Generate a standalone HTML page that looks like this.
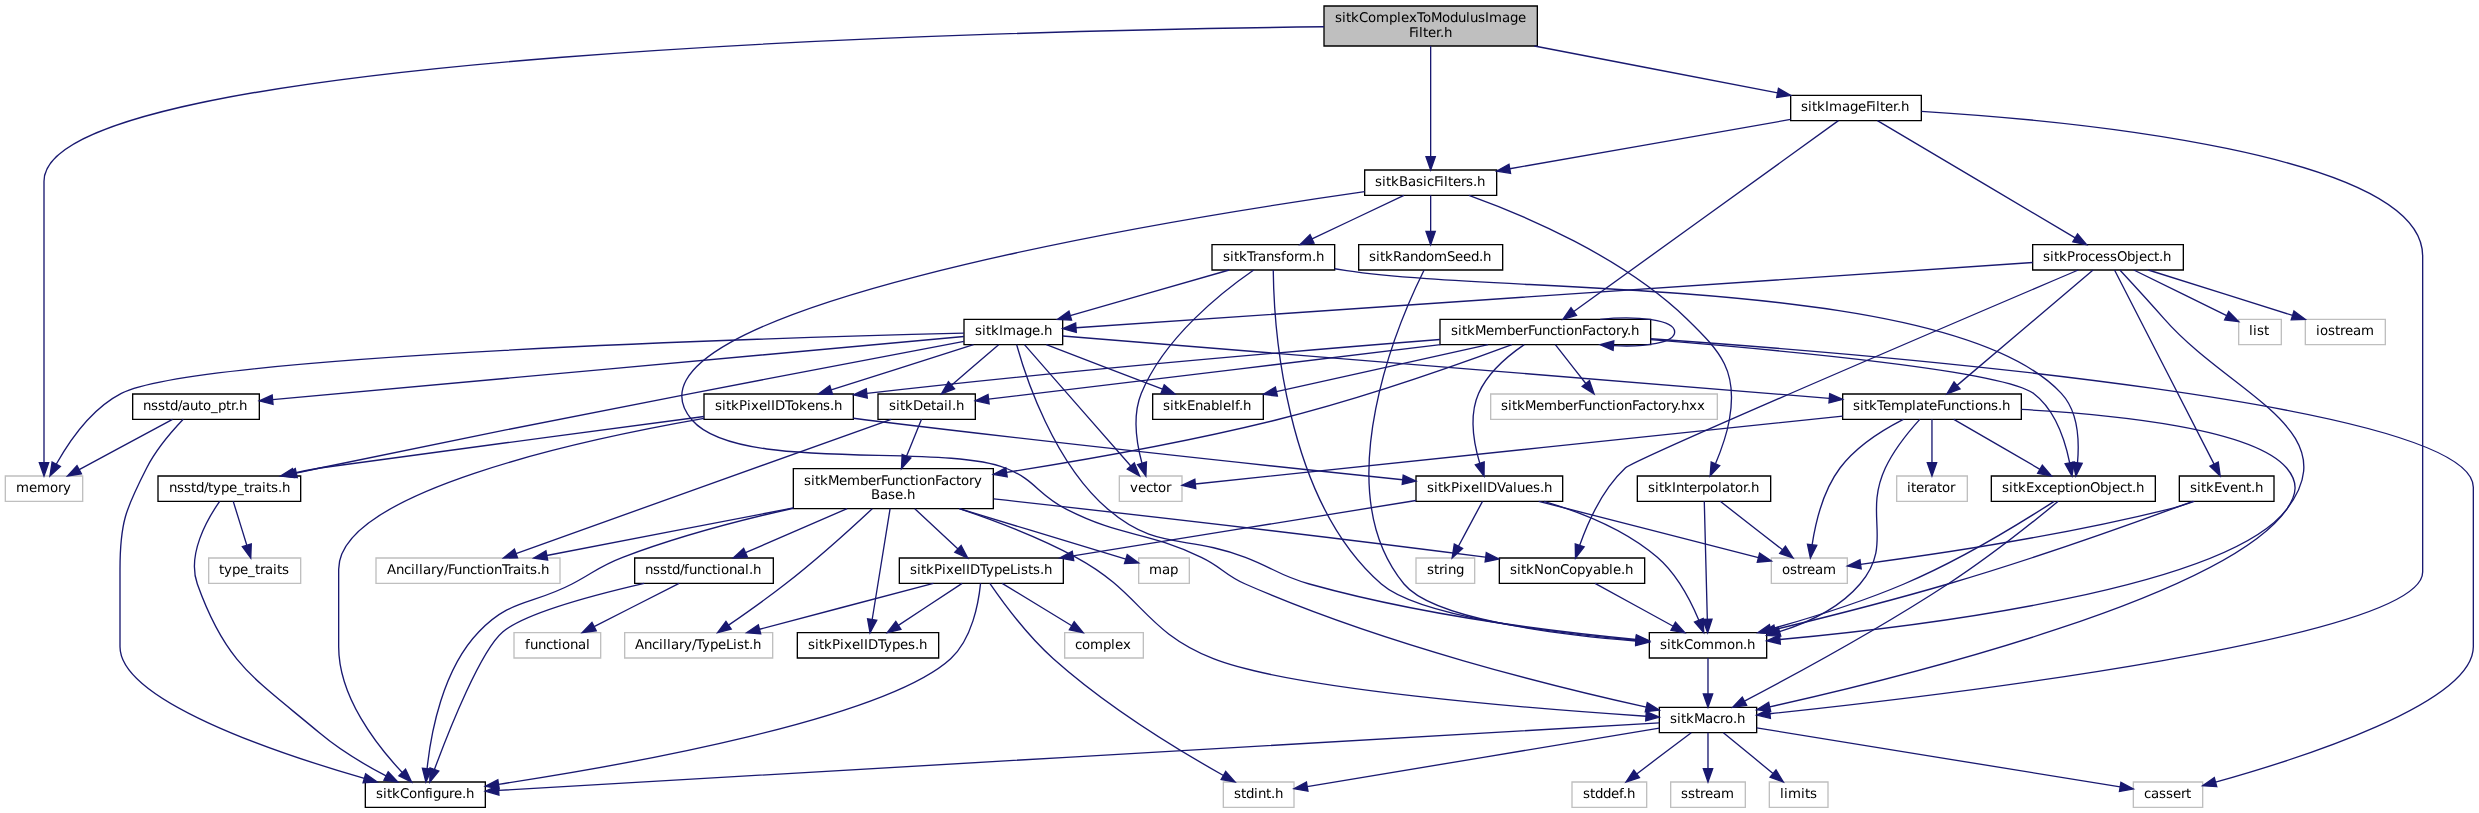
<!DOCTYPE html>
<html lang="en">
<head>
<meta charset="utf-8">
<title>sitkComplexToModulusImageFilter.h include dependency graph</title>
<style>
html,body{margin:0;padding:0;background:#fff;}
body{width:2479px;height:813px;overflow:hidden;}
svg{display:block;will-change:transform;}
text{font-family:"DejaVu Sans","Liberation Sans",sans-serif;font-size:13.3333px;fill:#000;text-rendering:geometricPrecision;}
.n polygon{fill:#fff;stroke:#000;stroke-width:1.3333;}
.n.x polygon{stroke:#bfbfbf;}
.n.r polygon{fill:#bfbfbf;}
.e path{fill:none;stroke:#191970;stroke-width:1.3333;}
.e polygon{fill:#191970;stroke:#191970;stroke-width:1.3333;}
</style>
</head>
<body>
<svg width="2479" height="813" viewBox="0 0 2479 813">
<rect x="0" y="0" width="2479" height="813" fill="#fff"/>
<g class="n r"><polygon points="1324,46 1324,6 1537.33,6 1537.33,46"/>
<text x="1335 1342 1346 1351 1359 1368 1376 1389 1397 1401 1409 1417 1423 1431 1442 1450 1458 1466 1470 1478 1485 1489 1502 1510 1518" y="22">sitkComplexToModulusImage</text>
<text x="1409 1415 1419 1423 1428 1436 1440 1444" y="37">Filter.h</text>
</g>
<g class="n x"><polygon points="5.33,501.33 5.33,476 82.67,476 82.67,501.33"/>
<text x="16 29 37 50 58 63" y="492">memory</text>
</g>
<g class="e"><path d="M1323.98,26.79C999.13,30.58 44,52.68 44,181.33 44,181.33 44,181.33 44,333.33 44,378.51 44,431.71 44,462.66"/><polygon points="48.67,462.66 44,476 39.33,462.66"/></g>
<g class="n"><polygon points="1364.67,195.33 1364.67,170 1496.67,170 1496.67,195.33"/>
<text x="1375 1382 1386 1391 1399 1408 1416 1423 1427 1434 1440 1444 1448 1453 1461 1466 1473 1477" y="186">sitkBasicFilters.h</text>
</g>
<g class="e"><path d="M1430.65,46C1430.65,74.17 1430.65,125.56 1430.65,156.66"/><polygon points="1435.31,156.66 1430.65,170 1425.98,156.66"/></g>
<g class="n"><polygon points="1790.67,120.67 1790.67,95.33 1921.33,95.33 1921.33,120.67"/>
<text x="1801 1808 1812 1817 1825 1829 1842 1850 1858 1866 1872 1876 1880 1885 1893 1897 1901" y="111">sitkImageFilter.h</text>
</g>
<g class="e"><path d="M1534.4,46C1609.41,60.46 1709.18,79.69 1777.6,92.88"/><polygon points="1778.48,88.3 1790.69,95.4 1776.71,97.46"/></g>
<g class="n"><polygon points="1659.33,732.67 1659.33,707.33 1756.67,707.33 1756.67,732.67"/>
<text x="1670 1677 1681 1686 1694 1705 1713 1720 1725 1733 1737" y="723">sitkMacro.h</text>
</g>
<g class="e"><path d="M1364.65,191.66C1166.98,219.96 599.02,311.69 692,420 737.88,473.45 939.72,442.36 1005.33,468 1035.95,479.96 1037.32,494.52 1066.67,509.33 1123.39,537.97 1143.95,530.07 1201.33,557.33 1221.99,567.15 1224.4,574.8 1245.33,584 1383.17,644.58 1555.88,687.2 1646.3,707.17"/><polygon points="1647.29,702.61 1659.32,710.02 1645.3,711.73"/></g>
<g class="n"><polygon points="1637.33,501.33 1637.33,476 1770.67,476 1770.67,501.33"/>
<text x="1648 1655 1659 1664 1672 1676 1684 1689 1697 1702 1710 1718 1722 1730 1735 1743 1747 1751" y="492">sitkInterpolator.h</text>
</g>
<g class="e"><path d="M1468.94,195.33C1522.96,214.76 1622.12,256.33 1686.67,318.67 1721.81,352.61 1738.08,371.92 1729.33,420 1726.65,434.83 1720.86,450.92 1715.5,463.79"/><polygon points="1719.77,465.67 1710.13,476 1711.22,461.91"/></g>
<g class="n"><polygon points="1358.67,270 1358.67,244.67 1502.67,244.67 1502.67,270"/>
<text x="1369 1376 1380 1385 1393 1402 1410 1418 1426 1434 1447 1455 1463 1471 1479 1483" y="261">sitkRandomSeed.h</text>
</g>
<g class="e"><path d="M1430.65,195.33C1430.65,205.17 1430.65,219.14 1430.65,231.33"/><polygon points="1435.31,231.33 1430.65,244.67 1425.98,231.33"/></g>
<g class="n"><polygon points="1212,270 1212,244.67 1334.67,244.67 1334.67,270"/>
<text x="1223 1230 1234 1239 1247 1253 1258 1266 1274 1281 1286 1294 1299 1312 1316" y="261">sitkTransform.h</text>
</g>
<g class="e"><path d="M1403.95,195.33C1378.73,207.3 1340.61,225.39 1312.04,238.95"/><polygon points="1314.04,243.17 1299.99,244.67 1310.04,234.73"/></g>
<g class="n x"><polygon points="1223.33,807.33 1223.33,782 1294,782 1294,807.33"/>
<text x="1234 1241 1246 1254 1258 1266 1271 1275" y="798">stdint.h</text>
</g>
<g class="e"><path d="M1659.32,728.09C1572.87,742.45 1393.52,772.26 1307.2,786.61"/><polygon points="1307.96,791.21 1294.04,788.79 1306.43,782"/></g>
<g class="n x"><polygon points="1572,807.33 1572,782 1646.67,782 1646.67,807.33"/>
<text x="1583 1590 1595 1603 1611 1619 1623 1627" y="798">stddef.h</text>
</g>
<g class="e"><path d="M1691.25,732.67C1676.32,743.96 1654.18,760.71 1636.68,773.95"/><polygon points="1639.49,777.68 1626.04,782 1633.86,770.23"/></g>
<g class="n x"><polygon points="2133.33,807.33 2133.33,782 2202.67,782 2202.67,807.33"/>
<text x="2144 2151 2159 2166 2173 2181 2186" y="798">cassert</text>
</g>
<g class="e"><path d="M1756.66,727.9C1845.33,742.29 2032.15,772.61 2120.19,786.9"/><polygon points="2120.94,782.3 2133.35,789.04 2119.45,791.51"/></g>
<g class="n x"><polygon points="1670.67,807.33 1670.67,782 1745.33,782 1745.33,807.33"/>
<text x="1681 1688 1695 1700 1705 1713 1721" y="798">sstream</text>
</g>
<g class="e"><path d="M1707.99,732.67C1707.99,742.5 1707.99,756.47 1707.99,768.67"/><polygon points="1712.66,768.67 1707.99,782 1703.32,768.67"/></g>
<g class="n x"><polygon points="1769.33,807.33 1769.33,782 1828,782 1828,807.33"/>
<text x="1780 1784 1788 1801 1805 1810" y="798">limits</text>
</g>
<g class="e"><path d="M1723.38,732.67C1736.96,743.84 1757.02,760.35 1773.02,773.53"/><polygon points="1775.99,769.92 1783.32,782 1770.06,777.13"/></g>
<g class="n"><polygon points="365.33,807.33 365.33,782 485.33,782 485.33,807.33"/>
<text x="376 383 387 392 400 409 417 425 429 433 441 449 454 462 466" y="798">sitkConfigure.h</text>
</g>
<g class="e"><path d="M1659.32,722.83C1463.65,734.22 733.56,776.72 498.64,790.4"/><polygon points="498.92,795.06 485.33,791.17 498.37,785.74"/></g>
<g class="n"><polygon points="1649.33,658 1649.33,632.67 1766.67,632.67 1766.67,658"/>
<text x="1660 1667 1671 1676 1684 1693 1701 1714 1727 1735 1743 1747" y="649">sitkCommon.h</text>
</g>
<g class="e"><path d="M1704.28,501.33C1704.94,526.93 1706.44,585.29 1707.32,619.34"/><polygon points="1711.99,619.22 1707.66,632.67 1702.66,619.46"/></g>
<g class="n x"><polygon points="1771.33,583.33 1771.33,558 1847.33,558 1847.33,583.33"/>
<text x="1782 1790 1797 1802 1807 1815 1823" y="574">ostream</text>
</g>
<g class="e"><path d="M1720.24,501.33C1736.85,514.25 1762.9,534.52 1782.56,549.81"/><polygon points="1785.43,546.13 1793.08,558 1779.69,553.5"/></g>
<g class="e"><path d="M1707.99,658C1707.99,667.84 1707.99,681.81 1707.99,694"/><polygon points="1712.66,694 1707.99,707.33 1703.32,694"/></g>
<g class="e"><path d="M1424.11,270C1400.54,317.64 1325.3,488.24 1404,584 1432.8,619.04 1555.59,634.53 1636.03,641.03"/><polygon points="1636.39,636.37 1649.32,642.05 1635.67,645.68"/></g>
<g class="e"><path d="M1273.25,270C1273.79,319.07 1282.7,498.19 1381.33,584 1418.51,616.34 1551.64,632.84 1636.04,640.23"/><polygon points="1636.43,635.58 1649.32,641.36 1635.64,644.88"/></g>
<g class="n"><polygon points="1991.33,501.33 1991.33,476 2155.33,476 2155.33,501.33"/>
<text x="2002 2009 2013 2018 2026 2034 2042 2049 2057 2065 2070 2074 2082 2090 2100 2108 2112 2120 2127 2132 2136" y="492">sitkExceptionObject.h</text>
</g>
<g class="e"><path d="M1334.64,268.75C1338.71,269.42 1342.74,270.07 1346.67,270.67 1505.96,294.95 1951.44,275.49 2061.33,393.33 2078.24,411.47 2079.4,441.3 2077.51,462.77"/><polygon points="2082.14,463.34 2075.87,476 2072.88,462.19"/></g>
<g class="n"><polygon points="964,344.67 964,319.33 1062.67,319.33 1062.67,344.67"/>
<text x="975 982 986 991 999 1003 1016 1024 1032 1040 1044" y="335">sitkImage.h</text>
</g>
<g class="e"><path d="M1229.2,270C1185.4,282.58 1118.06,301.92 1070.25,315.65"/><polygon points="1071.54,320.14 1057.43,319.34 1068.96,311.17"/></g>
<g class="n x"><polygon points="1119.33,501.33 1119.33,476 1182,476 1182,501.33"/>
<text x="1130 1138 1146 1153 1158 1166" y="492">vector</text>
</g>
<g class="e"><path d="M1253.73,270C1222.91,291.25 1164.22,337.3 1141.33,393.33 1132.27,415.51 1136.59,443.38 1141.97,463.25"/><polygon points="1146.44,461.88 1145.87,476 1137.51,464.61"/></g>
<g class="e"><path d="M2058.21,501.33C2035.11,520.38 1989.37,557.04 1948,584 1878.25,629.45 1792.26,676.03 1744.45,701.15"/><polygon points="1746.61,705.29 1732.63,707.33 1742.28,697.02"/></g>
<g class="e"><path d="M2054.18,501.33C2023.46,521.17 1960.92,559.8 1904,584 1860.65,602.42 1809.72,618.19 1770.65,629.13"/><polygon points="1771.89,633.63 1757.8,632.67 1769.41,624.63"/></g>
<g class="e"><path d="M964,333.13C787.85,337.45 196.4,354.74 121.33,393.33 91.6,408.62 69.09,441.41 56.22,464.24"/><polygon points="60.34,466.43 49.94,476 52.11,462.04"/></g>
<g class="e"><path d="M1016.63,344.67C1025.66,376.96 1053.84,463.08 1108,509.33 1157.17,551.32 1184.95,534.23 1245.33,557.33 1274.11,568.35 1279.65,575.72 1309.33,584 1421.13,615.19 1555.35,631.71 1636.05,639.48"/><polygon points="1636.48,634.83 1649.32,640.72 1635.61,644.12"/></g>
<g class="n"><polygon points="1842.67,419.33 1842.67,394 2021.33,394 2021.33,419.33"/>
<text x="1853 1860 1864 1869 1877 1883 1891 1904 1912 1916 1924 1929 1937 1943 1951 1959 1966 1971 1975 1983 1991 1998 2002" y="410">sitkTemplateFunctions.h</text>
</g>
<g class="e"><path d="M1062.67,336.01C1207.26,347.76 1632.2,382.3 1829.34,398.32"/><polygon points="1829.71,393.67 1842.62,399.4 1828.96,402.97"/></g>
<g class="e"><path d="M1024.44,344.67C1047.63,371.12 1101.49,432.53 1130.81,465.97"/><polygon points="1134.32,462.9 1139.6,476 1127.3,469.05"/></g>
<g class="n"><polygon points="878,419.33 878,394 975.33,394 975.33,419.33"/>
<text x="889 896 900 905 913 923 931 936 944 948 952 956" y="410">sitkDetail.h</text>
</g>
<g class="e"><path d="M998.63,344.67C985.73,355.78 966.72,372.16 951.47,385.29"/><polygon points="954.52,388.83 941.37,393.99 948.43,381.76"/></g>
<g class="n"><polygon points="704,419.33 704,394 853.33,394 853.33,419.33"/>
<text x="715 722 726 731 739 747 751 759 767 771 775 785 791 799 807 815 823 830 834" y="410">sitkPixelIDTokens.h</text>
</g>
<g class="e"><path d="M973.52,344.67C934.33,357.14 874.27,376.25 831.19,389.95"/><polygon points="832.6,394.4 818.48,393.99 829.77,385.51"/></g>
<g class="n"><polygon points="158,501.33 158,476 300.67,476 300.67,501.33"/>
<text x="169 177 184 191 196 204 208 213 221 229 237 244 249 254 262 266 271 278 282" y="492">nsstd/type_traits.h</text>
</g>
<g class="e"><path d="M964,341.33C900.89,353.29 788.23,374.69 692,393.33 526.44,425.4 485.13,433.83 320,468 312.32,469.59 304.28,471.32 296.29,473.09"/><polygon points="297.31,477.64 283.28,476 295.27,468.53"/></g>
<g class="n"><polygon points="1152.67,419.33 1152.67,394 1263.33,394 1263.33,419.33"/>
<text x="1163 1170 1174 1179 1187 1195 1203 1211 1219 1223 1231 1235 1239 1243" y="410">sitkEnableIf.h</text>
</g>
<g class="e"><path d="M1046.36,344.67C1078.3,356.92 1126.95,375.57 1162.54,389.22"/><polygon points="1164.21,384.86 1174.99,393.99 1160.87,393.58"/></g>
<g class="n"><polygon points="132.67,419.33 132.67,394 259.33,394 259.33,419.33"/>
<text x="143 151 158 165 170 178 182 190 198 203 211 218 226 231 235 239" y="410">nsstd/auto_ptr.h</text>
</g>
<g class="e"><path d="M964,336.51C826.53,349.07 438.39,384.52 272.61,399.66"/><polygon points="273.03,404.31 259.33,400.88 272.18,395.02"/></g>
<g class="e"><path d="M2021.29,409.45C2115.02,414.47 2253.33,428.55 2286.67,468 2298.52,482.03 2297.21,494.29 2286.67,509.33 2225.23,596.89 1905.9,676.35 1769.67,706.83"/><polygon points="1770.68,711.38 1756.66,709.71 1768.66,702.27"/></g>
<g class="e"><path d="M1919.78,419.33C1909.1,431.12 1893.96,449.6 1885.33,468 1862.95,515.79 1894.2,543.81 1860,584 1839.61,607.96 1808.35,622.68 1779.47,631.66"/><polygon points="1780.76,636.14 1766.65,635.33 1778.19,627.17"/></g>
<g class="e"><path d="M1903.37,419.33C1882.95,429.73 1856.3,446.27 1840,468 1823.2,490.39 1815.55,522.46 1812.11,544.78"/><polygon points="1816.73,545.38 1810.38,558 1807.48,544.18"/></g>
<g class="e"><path d="M1953.8,419.33C1976.82,432.68 2013.36,453.86 2039.99,469.31"/><polygon points="2042.33,465.27 2051.52,476 2037.65,473.35"/></g>
<g class="e"><path d="M1842.62,416.04C1675.28,433.6 1320.21,470.87 1195.3,483.98"/><polygon points="1195.79,488.62 1182.04,485.38 1194.82,479.34"/></g>
<g class="n x"><polygon points="1896.67,501.33 1896.67,476 1967.33,476 1967.33,501.33"/>
<text x="1907 1911 1916 1924 1929 1937 1942 1950" y="492">iterator</text>
</g>
<g class="e"><path d="M1931.96,419.33C1931.96,430.85 1931.96,448.2 1931.96,462.66"/><polygon points="1936.62,462.66 1931.96,476 1927.29,462.66"/></g>
<g class="n"><polygon points="793.33,508.67 793.33,468.67 993.33,468.67 993.33,508.67"/>
<text x="804 811 815 820 828 839 847 860 868 876 881 887 895 903 910 915 919 927 935 941 949 956 961 969 974" y="485">sitkMemberFunctionFactory</text>
<text x="871 880 888 895 903 907" y="499">Base.h</text>
</g>
<g class="e"><path d="M921.52,419.33C917.5,429.2 911.75,443.36 906.48,456.31"/><polygon points="910.81,458.07 901.46,468.66 902.16,454.56"/></g>
<g class="n x"><polygon points="376,583.33 376,558 560,558 560,583.33"/>
<text x="387 396 404 411 415 419 423 431 436 444 448 454 462 470 477 482 486 494 502 508 513 521 525 530 537 541" y="574">Ancillary/FunctionTraits.h</text>
</g>
<g class="e"><path d="M891.24,419.33C809.67,448.5 608.51,520.43 515.98,553.51"/><polygon points="517.55,557.91 503.42,558 514.4,549.12"/></g>
<g class="e"><path d="M959.29,508.66C994.91,520.64 1039.02,537.4 1076,557.33 1142.77,593.33 1142.84,630.65 1213.33,658.67 1290.7,689.41 1531.35,708.59 1646.02,716.22"/><polygon points="1646.32,711.56 1659.32,717.09 1645.71,720.88"/></g>
<g class="e"><path d="M793.33,508.23C741.49,519.82 677.68,536.36 622.67,557.33 598.89,566.4 594.57,572.25 572,584 530.61,605.53 510.97,598.36 478.67,632 442.42,669.74 430.8,733.25 427.08,768.72"/><polygon points="431.73,769.12 425.92,782 422.43,768.31"/></g>
<g class="n"><polygon points="634.67,583.33 634.67,558 773.33,558 773.33,583.33"/>
<text x="645 653 660 667 672 680 684 689 697 705 712 717 721 729 737 745 749 753" y="574">nsstd/functional.h</text>
</g>
<g class="e"><path d="M847.16,508.66C816.1,522.12 775.51,539.7 745.48,552.7"/><polygon points="747.34,556.98 733.25,558 743.63,548.42"/></g>
<g class="n"><polygon points="797.33,658 797.33,632.67 938.67,632.67 938.67,658"/>
<text x="808 815 819 824 832 840 844 852 860 864 868 878 884 892 900 908 915 919" y="649">sitkPixelIDTypes.h</text>
</g>
<g class="e"><path d="M890.1,508.66C885.54,536.89 877.2,588.42 872.18,619.51"/><polygon points="876.78,620.25 870.05,632.67 867.57,618.76"/></g>
<g class="n"><polygon points="899.33,583.33 899.33,558 1063.33,558 1063.33,583.33"/>
<text x="910 917 921 926 934 942 946 954 962 966 970 980 986 994 1002 1010 1017 1021 1028 1033 1040 1044" y="574">sitkPixelIDTypeLists.h</text>
</g>
<g class="e"><path d="M914.8,508.66C927.88,520.85 944.6,536.42 958.01,548.91"/><polygon points="961.19,545.5 967.77,558 954.83,552.33"/></g>
<g class="n x"><polygon points="624.67,658 624.67,632.67 772.67,632.67 772.67,658"/>
<text x="635 644 652 659 663 667 671 679 684 692 696 702 710 718 726 733 737 744 749 753" y="649">Ancillary/TypeList.h</text>
</g>
<g class="e"><path d="M872.26,508.66C850.91,528.59 816.66,559.64 785.33,584 767.01,598.25 745.56,613.44 728.58,625.14"/><polygon points="731.22,628.99 717.58,632.67 725.95,621.29"/></g>
<g class="n"><polygon points="1499.33,583.33 1499.33,558 1644.67,558 1644.67,583.33"/>
<text x="1510 1517 1521 1526 1534 1544 1552 1560 1569 1577 1585 1593 1601 1609 1613 1621 1625" y="574">sitkNonCopyable.h</text>
</g>
<g class="e"><path d="M993.69,498.96C1108.87,511.64 1303.83,533.69 1485.33,557.2"/><polygon points="1486.29,552.63 1498.93,558.93 1485.12,561.88"/></g>
<g class="e"><path d="M793.33,507.94C718.07,522.45 616.33,542.07 546.79,555.48"/><polygon points="547.67,560.06 533.7,558 545.91,550.89"/></g>
<g class="n x"><polygon points="1138.67,583.33 1138.67,558 1189.33,558 1189.33,583.33"/>
<text x="1149 1162 1170" y="574">map</text>
</g>
<g class="e"><path d="M959.34,508.66C1011.58,524.49 1082.7,546.05 1125.86,559.12"/><polygon points="1127.22,554.66 1138.62,562.99 1124.51,563.59"/></g>
<g class="e"><path d="M644.18,583.33C592.92,595.17 524.08,613.71 502.67,632 480.61,650.83 449.6,728.69 434.42,769.48"/><polygon points="438.8,771.09 429.83,782 430.04,767.87"/></g>
<g class="n x"><polygon points="514,658 514,632.67 600.67,632.67 600.67,658"/>
<text x="525 530 538 546 553 558 562 570 578 586" y="649">functional</text>
</g>
<g class="e"><path d="M679.12,583.33C655.8,595.21 620.65,613.1 594.1,626.62"/><polygon points="596.21,630.78 582.21,632.67 591.98,622.46"/></g>
<g class="e"><path d="M989.83,583.33C1002.35,601.49 1027.17,635.3 1053.33,658.67 1107.56,707.1 1180.66,751.35 1223.44,775.5"/><polygon points="1225.71,771.43 1235.08,782 1221.16,779.58"/></g>
<g class="e"><path d="M980.55,583.33C978.62,602.57 972.18,638.98 950.67,658.67 884.59,719.09 626.72,764.8 498.52,784.31"/><polygon points="499.21,788.92 485.33,786.29 497.82,779.69"/></g>
<g class="e"><path d="M962.13,583.33C944.67,594.83 918.63,611.99 898.37,625.34"/><polygon points="900.93,629.23 887.23,632.67 895.8,621.44"/></g>
<g class="e"><path d="M933.41,583.33C885.46,596 811.56,615.52 759.51,629.26"/><polygon points="760.7,633.78 746.62,632.67 758.32,624.75"/></g>
<g class="n x"><polygon points="1064.67,658 1064.67,632.67 1143.33,632.67 1143.33,658"/>
<text x="1075 1082 1090 1103 1111 1115 1123" y="649">complex</text>
</g>
<g class="e"><path d="M1002.16,583.33C1021.23,594.95 1049.76,612.33 1071.77,625.73"/><polygon points="1074.2,621.75 1083.16,632.67 1069.35,629.72"/></g>
<g class="e"><path d="M1595.03,583.33C1616.47,595.1 1648.68,612.78 1673.22,626.25"/><polygon points="1675.47,622.16 1684.91,632.67 1670.98,630.34"/></g>
<g class="e"><path d="M704,418.46C578.46,440.43 338.67,492.45 338.67,569.33 338.67,569.33 338.67,569.33 338.67,646.67 338.67,696.75 376.59,745.33 402.26,772.48"/><polygon points="405.59,769.21 411.6,782 398.93,775.75"/></g>
<g class="n"><polygon points="1416,501.33 1416,476 1562.67,476 1562.67,501.33"/>
<text x="1427 1434 1438 1443 1451 1459 1463 1471 1479 1483 1487 1497 1505 1513 1517 1525 1533 1540 1544" y="492">sitkPixelIDValues.h</text>
</g>
<g class="e"><path d="M853.34,418.28C857.85,418.89 862.32,419.47 866.67,420 1057.75,443.36 1282.35,467.25 1402.7,479.77"/><polygon points="1403.19,475.13 1415.97,481.14 1402.22,484.41"/></g>
<g class="e"><path d="M704,416.5C578.89,433.01 338.67,464.8 320,468 311.41,469.48 302.39,471.25 293.5,473.14"/><polygon points="294.5,477.7 280.48,476 292.5,468.58"/></g>
<g class="e"><path d="M1543.92,501.33C1579.4,511.73 1624.9,529.37 1657.33,557.33 1676.78,574.09 1690.61,600.69 1698.86,620.26"/><polygon points="1703.2,618.55 1703.74,632.67 1694.52,621.97"/></g>
<g class="e"><path d="M1538.74,501.33C1598.39,516.61 1698.15,542.17 1758.45,557.62"/><polygon points="1759.61,553.1 1771.37,560.93 1757.29,562.14"/></g>
<g class="e"><path d="M1415.97,500.5C1325.39,515.13 1171.27,540.01 1072.99,555.88"/><polygon points="1073.73,560.48 1059.82,558 1072.24,551.27"/></g>
<g class="n x"><polygon points="1416,583.33 1416,558 1474.67,558 1474.67,583.33"/>
<text x="1427 1434 1439 1444 1448 1456" y="574">string</text>
</g>
<g class="e"><path d="M1482.51,501.33C1476.11,513.27 1466.34,531.49 1458.43,546.25"/><polygon points="1462.54,548.46 1452.12,558 1454.31,544.04"/></g>
<g class="e"><path d="M219.66,501.33C206.82,519.74 186.91,554.88 197.33,584 226.29,664.87 254.33,677.97 320,733.33 339.93,750.14 365.23,765.04 386.04,775.95"/><polygon points="388.16,771.79 397.92,782 383.92,780.1"/></g>
<g class="n x"><polygon points="208.67,583.33 208.67,558 300.67,558 300.67,583.33"/>
<text x="219 224 232 240 248 255 260 265 273 277 282" y="574">type_traits</text>
</g>
<g class="e"><path d="M233.24,501.33C236.85,513.01 242.31,530.68 246.82,545.26"/><polygon points="251.27,543.88 250.75,558 242.36,546.64"/></g>
<g class="e"><path d="M172.52,419.33C147.59,432.78 107.89,454.19 79.21,469.67"/><polygon points="81.43,473.77 67.48,476 77,465.56"/></g>
<g class="e"><path d="M183.23,419.33C172.03,431.09 156.11,449.52 146.67,468 125.47,509.47 120,522.76 120,569.33 120,569.33 120,569.33 120,646.67 120,700.34 275.25,752.72 364.34,778.36"/><polygon points="365.62,773.87 377.17,782 363.07,782.85"/></g>
<g class="e"><path d="M1790.69,119.46C1715.12,132.73 1590.76,154.56 1509.78,168.77"/><polygon points="1510.58,173.37 1496.65,171.08 1508.97,164.18"/></g>
<g class="e"><path d="M1921.35,111.3C2070.39,120.6 2422.67,153.45 2422.67,256 2422.67,256 2422.67,256 2422.67,572 2422.67,638.37 1943.59,695.27 1769.92,713.72"/><polygon points="1770.41,718.36 1756.66,715.11 1769.43,709.08"/></g>
<g class="n"><polygon points="1440,344.67 1440,319.33 1650.67,319.33 1650.67,344.67"/>
<text x="1451 1458 1462 1467 1475 1486 1494 1507 1515 1523 1528 1534 1542 1550 1557 1562 1566 1574 1582 1588 1596 1603 1608 1616 1621 1627 1631" y="335">sitkMemberFunctionFactory.h</text>
</g>
<g class="e"><path d="M1838.45,120.66C1787.09,157.7 1636.81,266.06 1573.75,311.54"/><polygon points="1576.48,315.32 1562.93,319.34 1571.02,307.75"/></g>
<g class="n"><polygon points="2032.67,270 2032.67,244.67 2183.33,244.67 2183.33,270"/>
<text x="2043 2050 2054 2059 2067 2075 2080 2088 2095 2103 2110 2117 2127 2135 2139 2147 2154 2159 2163" y="261">sitkProcessObject.h</text>
</g>
<g class="e"><path d="M1877.4,120.66C1921.47,146.78 2022.72,206.78 2075.18,237.87"/><polygon points="2077.56,233.85 2086.65,244.67 2072.8,241.88"/></g>
<g class="e"><path d="M1650.7,338.73C1893.79,355.68 2473.33,404.74 2473.33,487.33 2473.33,487.33 2473.33,487.33 2473.33,646.67 2473.33,703.16 2301.35,758.22 2215.54,782.18"/><polygon points="2216.78,786.68 2202.69,785.71 2214.31,777.68"/></g>
<g class="e"><path d="M1650.7,339.68C1784.97,350.32 2003.4,370.8 2033.33,393.33 2055.05,409.69 2065.11,440.66 2069.69,462.86"/><polygon points="2074.29,462.06 2071.98,476 2065.09,463.67"/></g>
<g class="e"><path d="M1440.4,344.67C1310.7,360.32 1094.28,386.44 988.57,399.19"/><polygon points="989.13,403.82 975.33,400.79 988.01,394.56"/></g>
<g class="e"><path d="M1511.94,344.67C1461.45,363.41 1362.41,398.6 1276,420 1186.35,442.2 1083.13,460.29 1006.51,472.32"/><polygon points="1007.22,476.94 993.33,474.37 1005.79,467.71"/></g>
<g class="e"><path d="M1439.96,339.49C1309.13,349.85 1078.83,369.21 866.83,393.39"/><polygon points="867.29,398.04 853.53,394.88 866.27,388.76"/></g>
<g class="e"><path d="M1524.23,344.67C1508.4,355.46 1487.94,372.52 1478.67,393.33 1468.88,415.31 1473.79,443.38 1479.77,463.36"/><polygon points="1484.2,461.87 1484.02,476 1475.35,464.85"/></g>
<g class="e"><path d="M1488.13,344.67C1429.6,357.62 1338.65,377.75 1276.37,391.53"/><polygon points="1277.38,396.09 1263.36,394.42 1275.37,386.98"/></g>
<g class="e"><path d="M1600.16,319.33C1637.76,315.56 1674.67,319.79 1674.67,332 1674.67,342.73 1646.15,347.29 1613.72,345.68"/><polygon points="1613.11,350.32 1600.16,344.67 1613.8,341.01"/></g>
<g class="n x"><polygon points="1490.67,419.33 1490.67,394 1717.33,394 1717.33,419.33"/>
<text x="1501 1508 1512 1517 1525 1536 1544 1557 1565 1573 1578 1584 1592 1600 1607 1612 1616 1624 1632 1638 1646 1653 1658 1666 1671 1677 1681 1689 1697" y="410">sitkMemberFunctionFactory.hxx</text>
</g>
<g class="e"><path d="M1555.32,344.67C1563.65,355.28 1575.77,370.7 1585.83,383.51"/><polygon points="1589.5,380.63 1594.07,393.99 1582.16,386.39"/></g>
<g class="e"><path d="M2119.85,270C2131.34,282.37 2149.17,301.75 2164,318.67 2230.39,394.47 2348.01,429.39 2286.67,509.33 2225.36,589.22 1920.96,626.36 1779.93,639.49"/><polygon points="1780.36,644.14 1766.65,640.7 1779.51,634.84"/></g>
<g class="e"><path d="M2032.69,262.47C1828.09,276.43 1264.8,314.85 1075.97,327.73"/><polygon points="1076.29,332.39 1062.67,328.64 1075.65,323.07"/></g>
<g class="e"><path d="M2093.09,270C2062.88,295.62 1994.26,353.82 1957.06,385.37"/><polygon points="1960.08,388.93 1946.89,393.99 1954.04,381.81"/></g>
<g class="e"><path d="M2078.28,270C1974.54,314.23 1634.42,459.58 1625.33,468 1602.67,489.03 1587.85,522.39 1579.7,545.34"/><polygon points="1584.13,546.81 1575.51,558 1575.27,543.88"/></g>
<g class="n"><polygon points="2179.33,501.33 2179.33,476 2274,476 2274,501.33"/>
<text x="2190 2197 2201 2206 2214 2222 2230 2238 2246 2251 2255" y="492">sitkEvent.h</text>
</g>
<g class="e"><path d="M2114.52,270C2133.48,306.97 2188.99,415.2 2214.09,464.13"/><polygon points="2218.25,462 2220.18,476 2209.94,466.26"/></g>
<g class="n x"><polygon points="2305.33,344.67 2305.33,319.33 2385.33,319.33 2385.33,344.67"/>
<text x="2316 2320 2328 2335 2340 2345 2353 2361" y="335">iostream</text>
</g>
<g class="e"><path d="M2148.28,270C2188.03,282.51 2249.02,301.7 2292.61,315.41"/><polygon points="2294.02,310.96 2305.33,319.42 2291.21,319.87"/></g>
<g class="n x"><polygon points="2238.67,344.67 2238.67,319.33 2281.33,319.33 2281.33,344.67"/>
<text x="2249 2253 2257 2264" y="335">list</text>
</g>
<g class="e"><path d="M2133.8,270C2159.39,282.58 2198.74,301.91 2226.69,315.64"/><polygon points="2228.75,311.45 2238.66,321.52 2224.63,319.83"/></g>
<g class="e"><path d="M2192.84,501.33C2140.67,520.61 2037.3,557.83 1948,584 1890.04,600.99 1823.34,617.82 1774.99,629.54"/><polygon points="1776.08,634.08 1762.02,632.67 1773.89,625.01"/></g>
<g class="e"><path d="M2194.26,501.33C2185.78,504.3 2176.61,507.21 2168,509.33 2059.96,536.01 1930.64,555.03 1860.59,564.29"/><polygon points="1861.19,568.92 1847.37,566.02 1859.98,559.66"/></g>
</svg>
</body>
</html>
